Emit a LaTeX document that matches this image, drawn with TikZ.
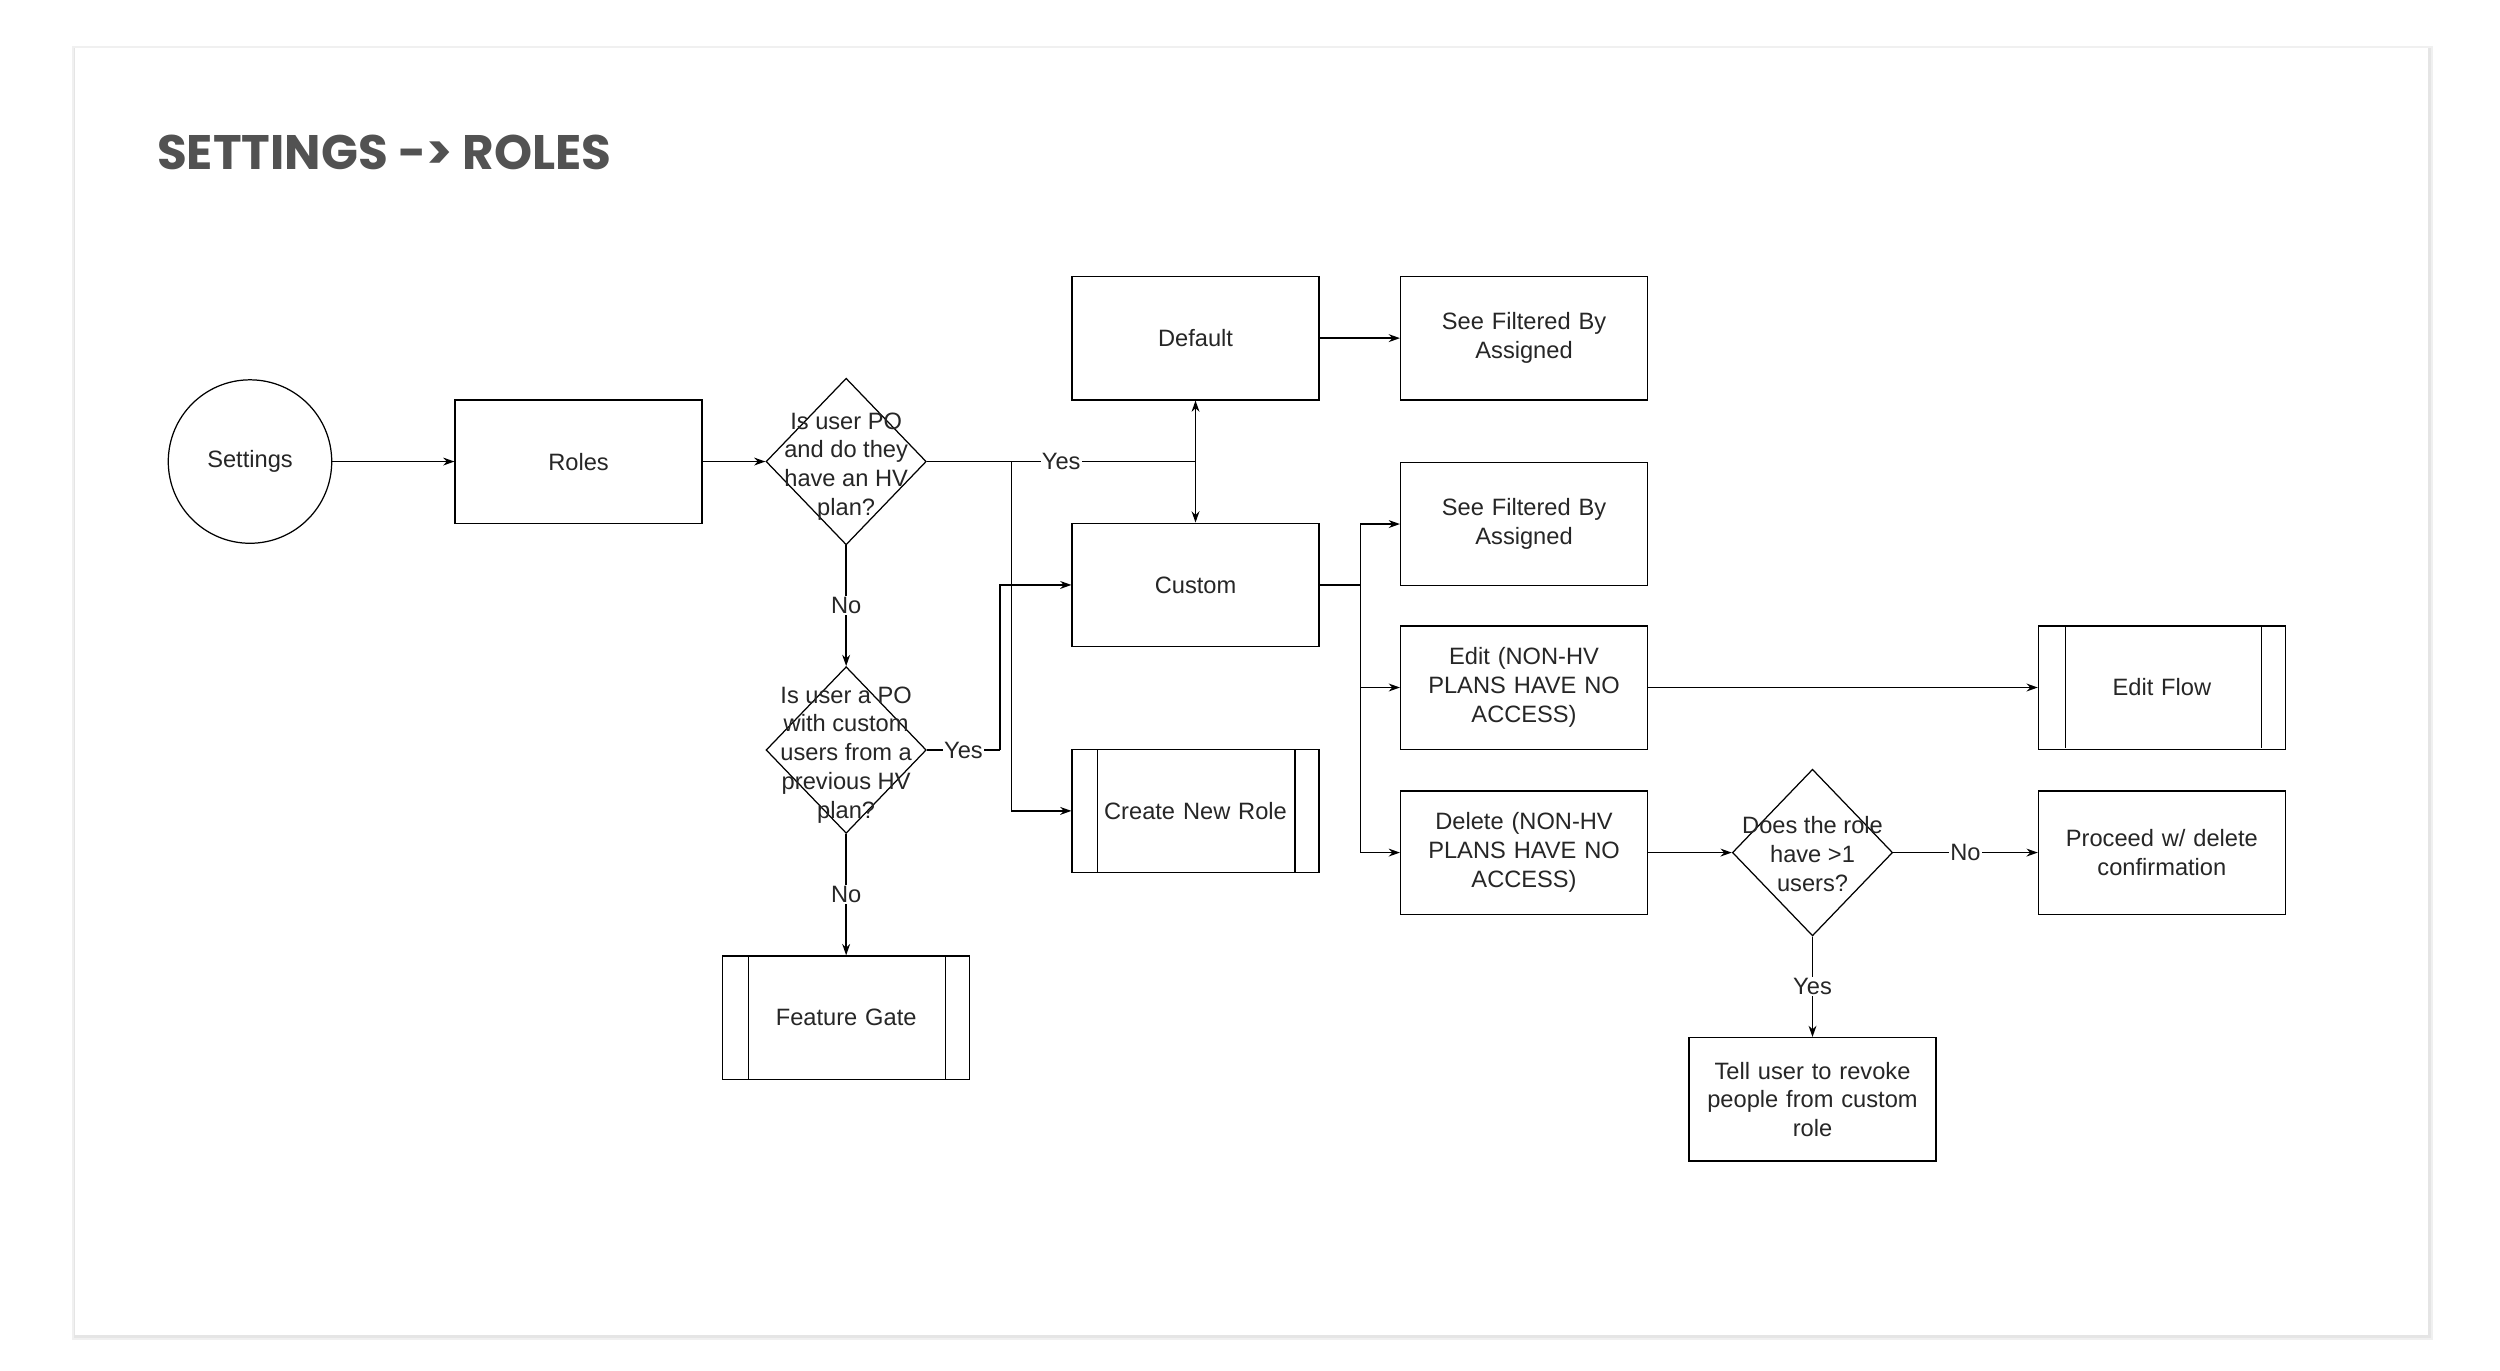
\documentclass[tikz,border=0pt]{standalone}
\usepackage{fontspec}
\setmainfont{Liberation Sans}
\newfontfamily\titlefont{Poppins}
\usetikzlibrary{shapes.geometric,arrows.meta}
\begin{document}
\begin{tikzpicture}[x=0.1cm,y=-0.1cm,
  every node/.style={font=\fontsize{42}{51}\selectfont, text=black!85},
  box/.style={draw, line width=2.5pt, minimum width=15.4cm, minimum height=7.7cm, align=center, inner sep=0pt, text width=13.6cm},
  sub/.style={box},
  dia/.style={draw, diamond, line width=2.2pt, minimum width=10cm, minimum height=10.4cm, inner sep=0pt},
  dtxt/.style={align=center, inner sep=0pt},
  lab/.style={fill=white, inner sep=2pt},
  con/.style={line width=2.5pt, -{Stealth[length=20pt,width=14pt]}},
  ln/.style={line width=2.5pt}]
\useasboundingbox (0,0) rectangle (1560,855);
\fill[white] (0,0) rectangle (1560,855);
\fill[black!6] (45,29) rectangle (1518,836);
\fill[black!10] (46,30) rectangle (1517,835);
\fill[white] (47,30) rectangle (1515,833);
\node[anchor=west, inner sep=0pt, text=black!68, font=\titlefont\bfseries\fontsize{86}{90}\selectfont] (title) at (98,95) {SETTINGS -> ROLES};

\node[draw, circle, line width=2.2pt, minimum size=10.2cm, inner sep=0pt] (set) at (156,288) {Settings};
\node[box] (roles) at (361,288) {Roles};
\node[dia] (d1) at (528,288) {};
\node[dtxt] at (528,291) {Is user PO\\and do they\\have an HV\\plan?};
\node[box] (def) at (746,211) {Default};
\node[box] (sf1) at (951,211) {See Filtered By\\Assigned};
\node[box] (cus) at (746,365) {Custom};
\node[box] (sf2) at (951,327) {See Filtered By\\Assigned};
\node[box] (edit) at (951,429) {Edit (NON-HV\\PLANS HAVE NO\\ACCESS)};
\node[box] (ef) at (1349,429) {Edit Flow};
\draw[ln] (1289,391) -- (1289,467) (1411,391) -- (1411,467);
\node[box] (del) at (951,532) {Delete (NON-HV\\PLANS HAVE NO\\ACCESS)};
\node[dia] (d3) at (1131,532) {};
\node[dtxt] at (1131,533) {Does the role\\have >1\\users?};
\node[box] (pro) at (1349,532) {Proceed w/ delete\\confirmation};
\node[box] (tell) at (1131,686) {Tell user to revoke\\people from custom\\role};
\node[dia] (d2) at (528,468) {};
\node[dtxt] at (528,471) {Is user a PO\\with custom\\users from a\\previous HV\\plan?};
\node[box] (cnr) at (746,506) {Create New Role};
\draw[ln] (685,468) -- (685,545) (808,468) -- (808,545);
\node[box] (fg) at (528,635) {Feature Gate};
\draw[ln] (467,597) -- (467,673) (590,597) -- (590,673);

\coordinate (j1) at (746,288);
\coordinate (j2) at (631,288);
\coordinate (j3) at (624,468);
\coordinate (j4) at (849,365);

\draw[con] (set) -- (roles);
\draw[con] (roles) -- (d1);
\draw[ln] (d1.east) -- node[lab]{Yes} (j1);
\draw[con] (j1) -- (def);
\draw[con] (j1) -- (cus);
\draw[con] (j2) |- (cnr);
\draw[con] (d1) -- node[lab]{No} (d2);
\draw[ln] (d2.east) -- node[lab]{Yes} (j3);
\draw[con] (j3) |- (cus.west);
\draw[con] (d2) -- node[lab]{No} (fg);
\draw[con] (def) -- (sf1);
\draw[ln] (cus) -- (j4);
\draw[con] (j4) |- (sf2.west);
\draw[con] (j4) |- (edit.west);
\draw[con] (j4) |- (del.west);
\draw[con] (edit) -- (ef);
\draw[con] (del) -- (d3);
\draw[con] (d3) -- node[lab]{No} (pro);
\draw[con] (d3) -- node[lab]{Yes} (tell);
\end{tikzpicture}
\end{document}
